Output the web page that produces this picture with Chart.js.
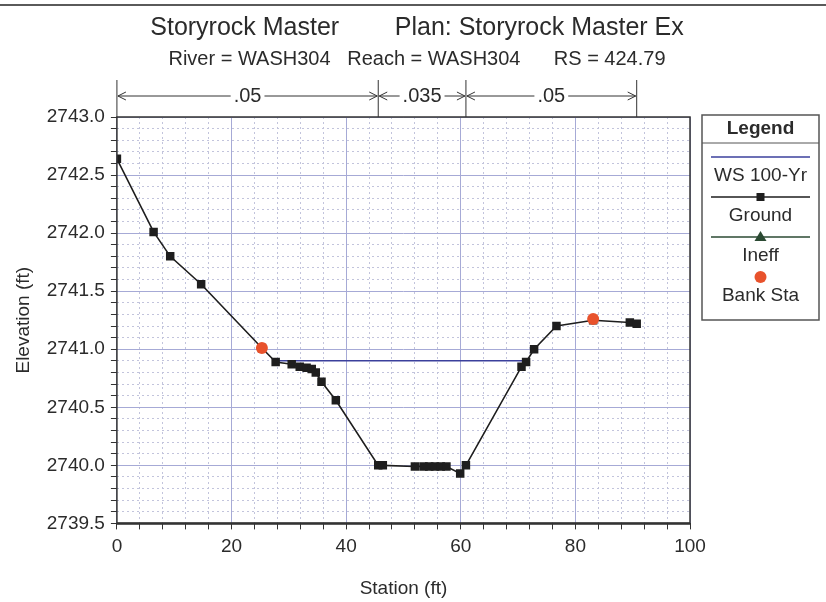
<!DOCTYPE html>
<html>
<head>
<meta charset="utf-8">
<title>Storyrock Master - RS 424.79</title>
<script src="https://cdn.jsdelivr.net/npm/chart.js@4.4.1/dist/chart.umd.min.js"></script>
<style>
  html, body { margin: 0; padding: 0; background: #fff; }
</style>
</head>
<body>
<canvas id="xsChart" width="826" height="602"></canvas>
<script>
// Cross section data (station ft, elevation ft)
const groundStation = [0, 6.4, 9.3, 14.7, 25.3, 27.7, 30.5, 31.9, 33.1, 34.0, 34.7, 35.7, 38.2,
  45.6, 46.4, 52.0, 53.5, 54.5, 55.5, 56.5, 57.5, 59.9, 60.9, 70.6, 71.4, 72.8, 76.7, 83.1, 89.5, 90.7];
const groundElev = [2742.64, 2742.01, 2741.80, 2741.56, 2741.01, 2740.89, 2740.87, 2740.85, 2740.84, 2740.83, 2740.80, 2740.72, 2740.56,
  2740.00, 2740.00, 2739.99, 2739.99, 2739.99, 2739.99, 2739.99, 2739.99, 2739.93, 2740.00, 2740.85, 2740.89, 2741.00, 2741.20, 2741.25, 2741.23, 2741.22];

const wsStation = [27.6, 71.3];
const wsElev = [2740.9, 2740.9];

const bankStation = [25.3, 83.1];
const bankElev = [2741.01, 2741.26];

// Manning's n regions
const nStations = [0, 45.6, 60.9, 90.7];
const nValues = ['.05', '.035', '.05'];

const seriesNames = ['WS 100-Yr', 'Ground', 'Ineff', 'Bank Sta'];

// labelled ticks
const xLabels = [0, 20, 40, 60, 80, 100];
const yLabels = [2739.5, 2740.0, 2740.5, 2741.0, 2741.5, 2742.0, 2742.5, 2743.0];

const textColor = '#2b2b2b';
const majorGrid = '#a6aad6';
const minorGrid = '#c2c4dc';

Chart.defaults.font.family = "'Liberation Sans', Arial, sans-serif";
Chart.defaults.color = textColor;

const pts = (xs, ys) => xs.map((x, i) => ({ x: x, y: ys[i] }));
const isLabelled = (list, v) => list.some(t => Math.abs(t - v) < 1e-6);

// draws the n-value strip, the plot frame and the legend box
const decorPlugin = {
  id: 'xsDecor',
  afterDraw(chart) {
    const ctx = chart.ctx;
    const area = chart.chartArea;
    const xScale = chart.scales.x;
    ctx.save();

    // page frame line at the top
    ctx.strokeStyle = '#5a5a5a';
    ctx.lineWidth = 2;
    ctx.beginPath();
    ctx.moveTo(0, 5);
    ctx.lineTo(826, 5);
    ctx.stroke();

    // plot frame
    ctx.strokeStyle = '#333';
    ctx.lineWidth = 1.5;
    ctx.strokeRect(area.left, area.top, area.right - area.left, area.bottom - area.top);
    ctx.lineWidth = 2.5;
    ctx.beginPath();
    ctx.moveTo(area.left, area.bottom);
    ctx.lineTo(area.right, area.bottom);
    ctx.stroke();

    // n values
    const arrowY = 96;
    const px = nStations.map(s => xScale.getPixelForValue(s));
    ctx.lineWidth = 1;
    ctx.strokeStyle = '#333';
    px.forEach(p => {
      ctx.beginPath();
      ctx.moveTo(p, 80);
      ctx.lineTo(p, area.top);
      ctx.stroke();
    });
    ctx.font = "20px 'Liberation Sans', Arial, sans-serif";
    ctx.fillStyle = textColor;
    ctx.textAlign = 'center';
    ctx.textBaseline = 'middle';
    nValues.forEach((n, k) => {
      const a = px[k], b = px[k + 1], mid = (a + b) / 2;
      const w = ctx.measureText(n).width;
      ctx.fillText(n, mid, arrowY);
      ctx.beginPath();
      ctx.moveTo(a + 1, arrowY);
      ctx.lineTo(mid - w / 2 - 3, arrowY);
      ctx.moveTo(mid + w / 2 + 3, arrowY);
      ctx.lineTo(b - 1, arrowY);
      // arrow heads
      ctx.moveTo(a + 9, arrowY - 4);
      ctx.lineTo(a + 1, arrowY);
      ctx.lineTo(a + 9, arrowY + 4);
      ctx.moveTo(b - 9, arrowY - 4);
      ctx.lineTo(b - 1, arrowY);
      ctx.lineTo(b - 9, arrowY + 4);
      ctx.stroke();
    });

    // legend
    const bx = area.right + 12, by = area.top - 2, bw = 117, bh = 205;
    const cx = bx + bw / 2;
    ctx.strokeStyle = '#555';
    ctx.lineWidth = 1.5;
    ctx.strokeRect(bx, by, bw, bh);
    ctx.lineWidth = 1;
    ctx.beginPath();
    ctx.moveTo(bx, by + 28);
    ctx.lineTo(bx + bw, by + 28);
    ctx.stroke();
    ctx.font = "bold 19px 'Liberation Sans', Arial, sans-serif";
    ctx.fillText('Legend', cx, by + 14);
    ctx.font = "19px 'Liberation Sans', Arial, sans-serif";

    chart.data.datasets.forEach((ds, i) => {
      const ly = by + 42 + i * 40;
      if (ds.showLine) {
        ctx.strokeStyle = ds.borderColor;
        ctx.lineWidth = 1.5;
        ctx.beginPath();
        ctx.moveTo(bx + 9, ly);
        ctx.lineTo(bx + bw - 9, ly);
        ctx.stroke();
      }
      ctx.fillStyle = ds.pointBackgroundColor || ds.borderColor;
      if (ds.pointStyle === 'rect') {
        ctx.fillRect(cx - 4, ly - 4, 8, 8);
      } else if (ds.pointStyle === 'triangle') {
        ctx.beginPath();
        ctx.moveTo(cx, ly - 6);
        ctx.lineTo(cx + 6, ly + 4);
        ctx.lineTo(cx - 6, ly + 4);
        ctx.closePath();
        ctx.fill();
      } else if (ds.pointStyle === 'circle') {
        ctx.beginPath();
        ctx.arc(cx, ly, 6, 0, Math.PI * 2);
        ctx.fill();
      }
      ctx.fillStyle = textColor;
      ctx.fillText(ds.label, cx, ly + 19);
    });

    ctx.restore();
  }
};

const config = {
  type: 'scatter',
  data: {
    datasets: [
      {
        label: seriesNames[0],
        data: pts(wsStation, wsElev),
        showLine: true,
        borderColor: '#3b409c',
        borderWidth: 1.5,
        pointRadius: 0,
        order: 3
      },
      {
        label: seriesNames[1],
        data: pts(groundStation, groundElev),
        showLine: true,
        borderColor: '#1e1e1e',
        borderWidth: 1.6,
        pointStyle: 'rect',
        pointRadius: 6,
        pointBackgroundColor: '#1e1e1e',
        pointBorderColor: '#1e1e1e',
        pointBorderWidth: 0,
        order: 2
      },
      {
        label: seriesNames[2],
        data: [],
        showLine: true,
        borderColor: '#2b4a33',
        pointStyle: 'triangle',
        pointBackgroundColor: '#2b4a33',
        order: 4
      },
      {
        label: seriesNames[3],
        data: pts(bankStation, bankElev),
        showLine: false,
        pointStyle: 'circle',
        pointRadius: 6,
        pointBackgroundColor: '#e8522c',
        pointBorderColor: '#e8522c',
        pointBorderWidth: 0,
        order: 1
      }
    ]
  },
  options: {
    responsive: false,
    animation: false,
    devicePixelRatio: 1,
    layout: { padding: { left: 8, right: 0, top: 0, bottom: 2 } },
    plugins: {
      legend: { display: false },
      tooltip: { enabled: false },
      title: {
        display: true,
        text: 'Storyrock Master        Plan: Storyrock Master Ex',
        font: { size: 25, weight: 'normal' },
        color: textColor,
        padding: { top: 13, bottom: 0 }
      },
      subtitle: {
        display: true,
        text: 'River = WASH304   Reach = WASH304      RS = 424.79',
        font: { size: 20 },
        color: textColor,
        padding: { top: 4, bottom: 46 }
      }
    },
    scales: {
      x: {
        type: 'linear',
        min: 0,
        max: 100,
        ticks: {
          stepSize: 4,
          autoSkip: false,
          maxRotation: 0,
          padding: 6,
          font: { size: 19 },
          color: textColor,
          callback: v => isLabelled(xLabels, v) ? v : ''
        },
        grid: {
          color: c => isLabelled(xLabels, c.tick.value) ? majorGrid : minorGrid,
          lineWidth: 1,
          tickColor: '#333',
          tickLength: 6
        },
        border: {
          display: false,
          dash: c => (c.tick && isLabelled(xLabels, c.tick.value)) ? [] : [2, 3]
        },
        title: {
          display: true,
          text: 'Station (ft)',
          font: { size: 19 },
          color: textColor,
          padding: { top: 13, bottom: 0 }
        }
      },
      y: {
        type: 'linear',
        min: 2739.5,
        max: 2743,
        ticks: {
          stepSize: 0.1,
          autoSkip: false,
          padding: 6,
          font: { size: 19 },
          color: textColor,
          callback: v => isLabelled(yLabels, v) ? v.toFixed(1) : ''
        },
        grid: {
          color: c => isLabelled(yLabels, c.tick.value) ? majorGrid : minorGrid,
          lineWidth: 1,
          tickColor: '#333',
          tickLength: 6
        },
        border: {
          display: false,
          dash: c => (c.tick && isLabelled(yLabels, c.tick.value)) ? [] : [2, 3]
        },
        title: {
          display: true,
          text: 'Elevation (ft)',
          font: { size: 19 },
          color: textColor,
          padding: { top: 4, bottom: 6 }
        }
      },
      // empty axis on the right that reserves room for the legend box
      legendSpace: {
        type: 'linear',
        position: 'right',
        ticks: { display: false },
        grid: { drawOnChartArea: false, drawTicks: false },
        border: { display: false },
        afterFit: s => { s.width = 136; }
      }
    }
  },
  plugins: [decorPlugin]
};

const xsChart = new Chart(document.getElementById('xsChart'), config);
</script>
</body>
</html>
